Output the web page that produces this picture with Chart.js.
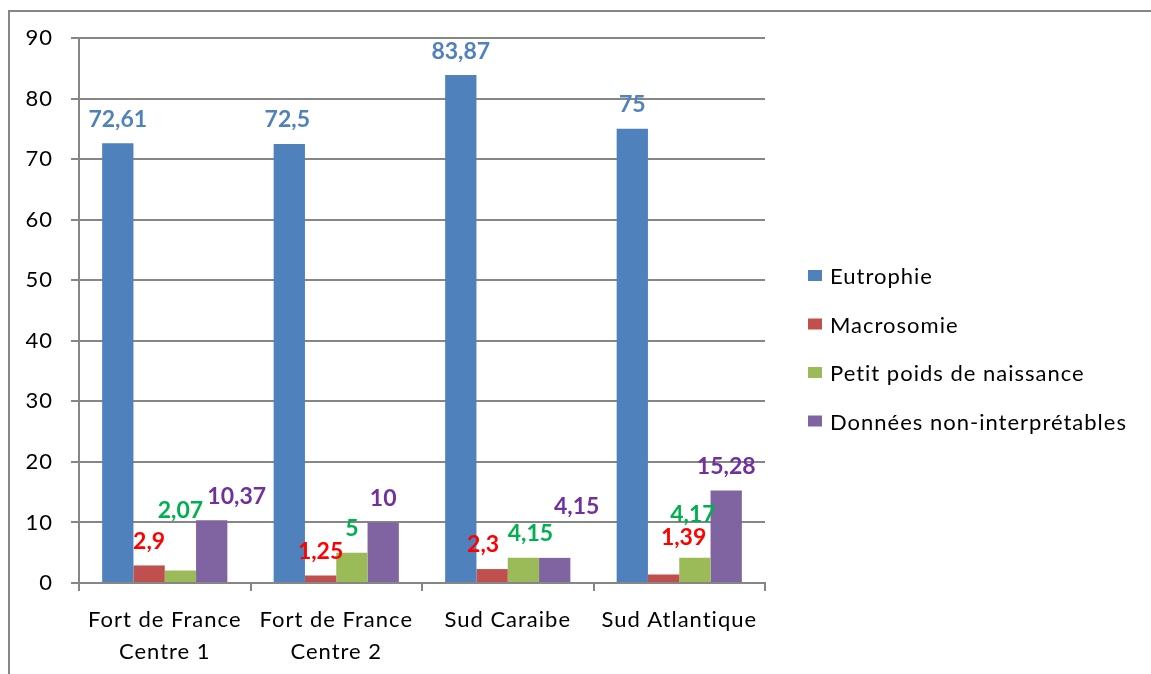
<!DOCTYPE html>
<html>
<head>
<meta charset="utf-8">
<script src="https://cdn.jsdelivr.net/npm/chart.js@4"></script>
<style>
  html, body { margin: 0; padding: 0; background: #ffffff; }
  #wrap { width: 1151px; height: 674px; position: relative; }
</style>
</head>
<body>
<div id="wrap"><canvas id="c" width="1151" height="674"></canvas></div>
<script>
// ---- data ----
const categories = [
  ['Fort de France', 'Centre 1'],
  ['Fort de France', 'Centre 2'],
  ['Sud Caraibe'],
  ['Sud Atlantique']
];
const seriesNames = ['Eutrophie', 'Macrosomie', 'Petit poids de naissance', 'Données non-interprétables'];
const eutrophie = [72.61, 72.5, 83.87, 75];
const macrosomie = [2.9, 1.25, 2.3, 1.39];
const petitPoids = [2.07, 5, 4.15, 4.17];
const nonInterpretables = [10.37, 10, 4.15, 15.28];
const yMin = 0, yMax = 90, yStep = 10;

// ---- styles ----
const barColors = ['#4F81BD', '#C0504D', '#9BBB59', '#8064A2'];
const labelColors = ['#4F81BD', '#FF0000', '#00B050', '#7030A0'];
// manual label displacement (px) relative to default "outside end" placement
const labelNudges = [
  [[0, 0], [-2, 0], [0, 0], [0, 0]],
  [[0, 0], [0, 0], [-9, 0], [20, -13]],
  [[0, -36], [0, 0], [7, 0], [-2, -19]],
  [[25, 0], [0, 0], [22, -27], [0, 0]]
];
const FONT = 'Lato, "Open Sans", sans-serif';
const GREY = '#868686';
const TEXT_SPACING = '1px';

const seriesValues = [eutrophie, macrosomie, petitPoids, nonInterpretables];

const spacingPlugin = {
  id: 'spacing',
  beforeDraw(chart) { chart.ctx.letterSpacing = TEXT_SPACING; },
  beforeDatasetsDraw(chart) { chart.ctx.letterSpacing = '0px'; }
};

const dataLabelPlugin = {
  id: 'dataLabels',
  afterDatasetsDraw(chart) {
    const ctx = chart.ctx;
    ctx.save();
    ctx.letterSpacing = '0px';
    ctx.font = 'bold 23px ' + FONT;
    ctx.textAlign = 'center';
    ctx.textBaseline = 'middle';
    chart.data.datasets.forEach((ds, i) => {
      const meta = chart.getDatasetMeta(i);
      meta.data.forEach((bar, j) => {
        const v = ds.data[j];
        const txt = String(v).replace('.', ',');
        const n = labelNudges[i][j];
        ctx.fillStyle = labelColors[i];
        ctx.fillText(txt, bar.x + n[0], bar.y - 24 + n[1]);
      });
    });
    ctx.restore();
  }
};

const legendPlugin = {
  id: 'customLegend',
  afterDraw(chart) {
    const ctx = chart.ctx;
    ctx.save();
    ctx.letterSpacing = TEXT_SPACING;
    ctx.font = '22px ' + FONT;
    ctx.textAlign = 'left';
    ctx.textBaseline = 'middle';
    const x0 = chart.chartArea.right + 43;
    const yc0 = 276;
    const gap = 48.5;
    chart.data.datasets.forEach((ds, i) => {
      const yc = yc0 + gap * i;
      ctx.fillStyle = ds.backgroundColor;
      ctx.fillRect(x0, yc - 6, 14, 11);
      ctx.fillStyle = '#000000';
      ctx.fillText(ds.label, x0 + 22, yc + 1);
    });
    ctx.restore();
  }
};

const framePlugin = {
  id: 'frame',
  afterDraw(chart) {
    const ctx = chart.ctx;
    ctx.save();
    ctx.strokeStyle = GREY;
    ctx.lineWidth = 2;
    ctx.beginPath();
    ctx.moveTo(9, chart.height);
    ctx.lineTo(9, 11);
    ctx.lineTo(chart.width, 11);
    ctx.stroke();
    ctx.restore();
  }
};

new Chart(document.getElementById('c'), {
  type: 'bar',
  data: {
    labels: categories,
    datasets: seriesNames.map((name, i) => ({
      label: name,
      data: seriesValues[i],
      backgroundColor: barColors[i],
      borderWidth: 0,
      categoryPercentage: 0.73,
      barPercentage: 1.0
    }))
  },
  options: {
    responsive: false,
    animation: false,
    devicePixelRatio: 1,
    layout: { padding: { top: 38, right: 386, left: 0, bottom: 0 } },
    plugins: {
      legend: { display: false },
      tooltip: { enabled: false }
    },
    scales: {
      x: {
        afterFit(s) { s.height = 91; },
        grid: { drawOnChartArea: false, drawTicks: true, tickLength: 8, color: GREY, lineWidth: 2, offset: true },
        border: { display: true, color: GREY, width: 2 },
        ticks: { color: '#000000', font: { family: FONT, size: 22, lineHeight: 32 / 22 }, padding: 13, maxRotation: 0, autoSkip: false }
      },
      y: {
        min: yMin, max: yMax,
        afterFit(s) { s.width = 79; },
        grid: { drawOnChartArea: true, drawTicks: true, tickLength: 8, color: GREY, lineWidth: 2 },
        border: { display: true, color: GREY, width: 2 },
        ticks: { stepSize: yStep, color: '#000000', font: { family: FONT, size: 22 }, padding: 18 }
      }
    }
  },
  plugins: [spacingPlugin, dataLabelPlugin, legendPlugin, framePlugin]
});
</script>
</body>
</html>
